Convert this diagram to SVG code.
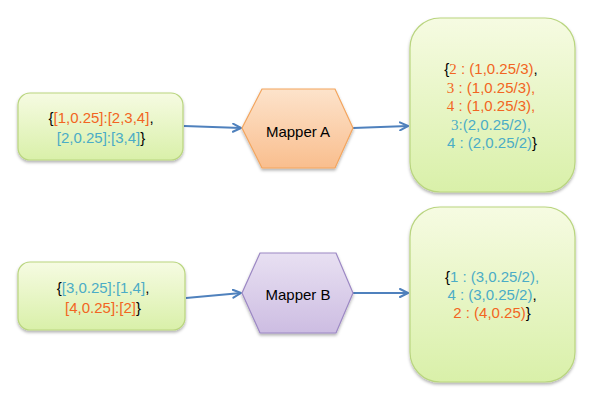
<svg xmlns="http://www.w3.org/2000/svg" width="599" height="409" viewBox="0 0 599 409">
<defs>
<linearGradient id="gGreen" x1="0" y1="0" x2="0" y2="1">
<stop offset="0" stop-color="#F6FBE2"/>
<stop offset="1" stop-color="#D9F0A9"/>
</linearGradient>
<linearGradient id="gOrange" x1="0" y1="0" x2="0" y2="1">
<stop offset="0" stop-color="#FDE3CB"/>
<stop offset="1" stop-color="#F9BE8E"/>
</linearGradient>
<linearGradient id="gPurple" x1="0" y1="0" x2="0" y2="1">
<stop offset="0" stop-color="#E8E0F2"/>
<stop offset="1" stop-color="#CDBDE2"/>
</linearGradient>
<filter id="shadow" x="-10%" y="-10%" width="130%" height="130%">
<feDropShadow dx="0" dy="2" stdDeviation="1.5" flood-color="#000" flood-opacity="0.3"/>
</filter>
<marker id="arr" viewBox="0 0 10 10" refX="9" refY="5" markerWidth="5" markerHeight="5" orient="auto" markerUnits="strokeWidth">
<path d="M1,1 L9,5 L1,9" fill="none" stroke="#4F81BD" stroke-width="2" stroke-linecap="round" stroke-linejoin="round"/>
</marker>
<style>
.box{fill:url(#gGreen);stroke:#B9D57F;stroke-width:1.2;filter:url(#shadow)}
.hexA{fill:url(#gOrange);stroke:#F3A55E;stroke-width:1.2;filter:url(#shadow)}
.hexB{fill:url(#gPurple);stroke:#9C88C4;stroke-width:1.2;filter:url(#shadow)}
.con{stroke:#4F81BD;stroke-width:2;fill:none;marker-end:url(#arr)}
text{font-family:"Liberation Sans",Arial,sans-serif;font-size:15px;text-anchor:middle;fill:#000}
.o{fill:#F26522}
.b{fill:#4BACC6}
.k{fill:#000}
.s{font-family:"Liberation Serif","Times New Roman",serif}
</style>
</defs>
<g id="connectors">
<line class="con" x1="184" y1="126" x2="241" y2="128"/>
<line class="con" x1="353" y1="128" x2="408" y2="126"/>
<line class="con" x1="186" y1="298" x2="241" y2="293"/>
<line class="con" x1="353" y1="293" x2="408" y2="293"/>
</g>
<g id="inputA">
<rect class="box" x="18" y="93" width="165" height="67" rx="12"/>
<text x="101" y="123"><tspan class="k">{</tspan><tspan class="o">[1,0.25]:[2,3,4]</tspan><tspan class="k">,</tspan></text>
<text x="101" y="143"><tspan class="b">[2,0.25]:[3,4]</tspan><tspan class="k">}</tspan></text>
</g>
<g id="inputB">
<rect class="box" x="18" y="262" width="167" height="68" rx="12"/>
<text x="103" y="293"><tspan class="k">{</tspan><tspan class="b">[3,0.25]:[1,4]</tspan><tspan class="k">,</tspan></text>
<text x="103" y="313"><tspan class="o">[4,0.25]:[2]</tspan><tspan class="k">}</tspan></text>
</g>
<g id="mapperA">
<polygon class="hexA" points="242,128 262,89 335,89 353,128 335,168 262,168"/>
<text x="298" y="137">Mapper A</text>
</g>
<g id="mapperB">
<polygon class="hexB" points="242,293 260,253 336,253 353,293 336,333 260,333"/>
<text x="298" y="300">Mapper B</text>
</g>
<g id="outputA">
<rect class="box" x="410" y="18" width="165" height="174" rx="30"/>
<text x="491" y="74"><tspan class="k">{</tspan><tspan class="o s">2</tspan><tspan class="o"> : (1,0.25/3)</tspan><tspan class="k">,</tspan></text>
<text x="491" y="92.5"><tspan class="o s">3</tspan><tspan class="o"> : (1,0.25/3),</tspan></text>
<text x="491" y="111"><tspan class="o s">4</tspan><tspan class="o"> : (1,0.25/3),</tspan></text>
<text x="491" y="129.5"><tspan class="b s">3</tspan><tspan class="b">:(2,0.25/2),</tspan></text>
<text x="492" y="148"><tspan class="b">4 : (2,0.25/2)</tspan><tspan class="k">}</tspan></text>
</g>
<g id="outputB">
<rect class="box" x="410" y="207" width="165" height="175" rx="30"/>
<text x="492" y="282"><tspan class="k">{</tspan><tspan class="b">1 : (3,0.25/2),</tspan></text>
<text x="492" y="300"><tspan class="b">4 : (3,0.25/2)</tspan><tspan class="k">,</tspan></text>
<text x="492" y="318"><tspan class="o">2 : (4,0.25)</tspan><tspan class="k">}</tspan></text>
</g>
</svg>
